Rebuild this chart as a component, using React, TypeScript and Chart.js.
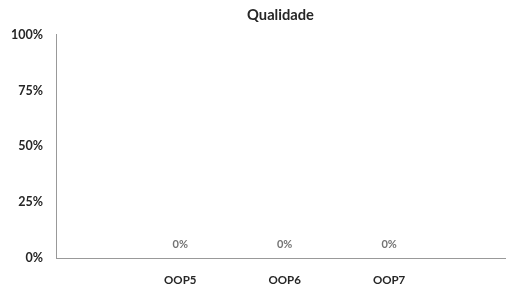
import React, { useEffect, useRef } from "react";
import { Chart, registerables } from "chart.js";

Chart.register(...registerables);

const title = "Qualidade";
const categories = ["OOP5", "OOP6", "OOP7"];
const values = [0, 0, 0];
const yTickValues = [0, 0.25, 0.5, 0.75, 1];

const pct = (v: number) => `${Math.round(v * 100)}%`;
const FONT = "Lato, 'DejaVu Sans', sans-serif";

const valueLabels = {
  id: "valueLabels",
  afterDatasetsDraw(chart: any) {
    const ctx = chart.ctx;
    ctx.save();
    ctx.font = `bold 11px ${FONT}`;
    ctx.fillStyle = "#737373";
    ctx.textAlign = "center";
    ctx.textBaseline = "bottom";
    chart.data.datasets.forEach((ds: any, di: number) => {
      const meta = chart.getDatasetMeta(di);
      meta.data.forEach((el: any, i: number) => {
        ctx.fillText(pct(values[i]), el.x, el.y - 8);
      });
    });
    ctx.restore();
  },
};

export default function App() {
  const ref = useRef<HTMLCanvasElement | null>(null);
  useEffect(() => {
    if (!ref.current) return;
    const chart = new Chart(ref.current, {
      type: "bar",
      data: {
        datasets: [
          {
            label: title,
            data: categories.map((c, i) => ({ x: i + 1, y: values[i] })),
            backgroundColor: "#4472c4",
            barPercentage: 0.6,
            categoryPercentage: 0.8,
          },
        ],
      },
      options: {
        animation: false,
        responsive: true,
        maintainAspectRatio: false,
        layout: { padding: { left: 0, right: 10, top: 0, bottom: 6 } },
        plugins: {
          legend: { display: false },
          tooltip: { enabled: false },
          title: {
            display: true,
            text: title,
            fullSize: false,
            color: "#262626",
            font: { family: FONT, size: 14.7, weight: "bold" },
            padding: { top: 6, bottom: 11 },
          },
        },
        scales: {
          x: {
            type: "linear",
            offset: false,
            min: -0.19,
            max: 4.11,
            grid: { display: false, drawTicks: false },
            border: { display: true, color: "#999999", width: 1 },
            afterBuildTicks: (scale: any) => {
              scale.ticks = categories.map((c, i) => ({ value: i + 1 }));
            },
            afterFit: (scale: any) => {
              scale.height = 28;
            },
            ticks: {
              padding: 15,
              maxRotation: 0,
              color: "#262626",
              font: { family: FONT, size: 11.5, weight: "bold" },
              callback: (v: any) => categories[Number(v) - 1] ?? "",
            },
          },
          y: {
            min: 0,
            max: 1,
            grid: { display: false, drawTicks: false },
            border: { display: true, color: "#999999", width: 1 },
            afterBuildTicks: (scale: any) => {
              scale.ticks = yTickValues.map((v) => ({ value: v }));
            },
            afterFit: (scale: any) => {
              scale.width = 56;
            },
            ticks: {
              padding: 13,
              color: "#262626",
              font: { family: FONT, size: 12.5, weight: "bold" },
              callback: (v: any) => pct(Number(v)),
            },
          },
        },
      },
      plugins: [valueLabels],
    } as any);
    return () => chart.destroy();
  }, []);
  return (
    <div style={{ position: "fixed", left: 0, top: 0, width: 515, height: 292, background: "#fff" }}>
      <canvas ref={ref} />
    </div>
  );
}
